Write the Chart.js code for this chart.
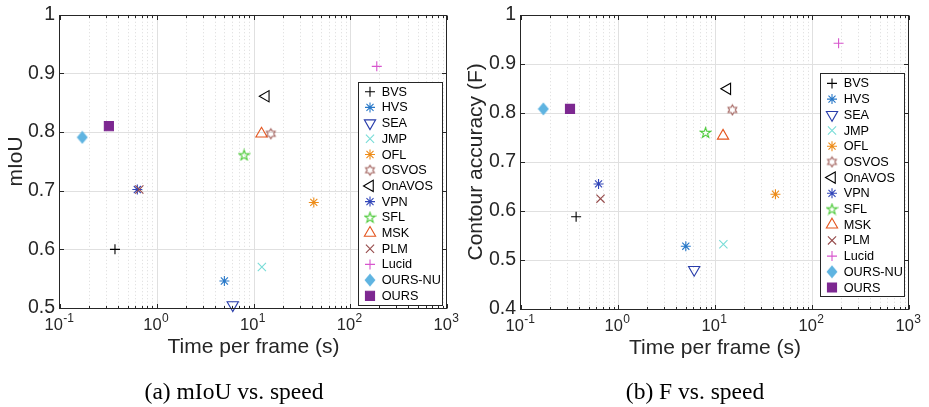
<!DOCTYPE html>
<html><head><meta charset="utf-8">
<script src="https://cdn.jsdelivr.net/npm/chart.js@4"></script>
<style>
html,body{margin:0;padding:0;background:#fff;}
#wrap{position:relative;width:929px;height:407px;overflow:hidden;background:#fff;}
.panel{position:absolute;top:0;height:407px;}
#pa{left:0;width:460px;} #pb{left:460px;width:469px;}
canvas{display:block;}
.cap{position:absolute;top:380px;font-family:"Liberation Serif","Times New Roman",serif;font-size:23.5px;color:#000;white-space:nowrap;transform:translateX(-50%);line-height:1;}
</style></head>
<body><div id="wrap">
<div class="panel" id="pa"><canvas id="ca" width="460" height="407"></canvas></div>
<div class="panel" id="pb"><canvas id="cb" width="469" height="407"></canvas></div>
<div class="cap" style="left:234px">(a) mIoU vs. speed</div>
<div class="cap" style="left:695px">(b) F vs. speed</div>
</div>
<script>
// ---------------- data ----------------
const methods = ['BVS','HVS','SEA','JMP','OFL','OSVOS','OnAVOS','VPN','SFL','MSK','PLM','Lucid','OURS-NU','OURS'];
const timePerFrame = [0.37, 5.0, 6.1, 12.2, 42, 15.1, 13.4, 0.63, 8.0, 12.1, 0.66, 188, 0.17, 0.32];
const mIoU     = [0.600, 0.546, 0.505, 0.570, 0.680, 0.797, 0.861, 0.702, 0.761, 0.797, 0.702, 0.912, 0.791, 0.810];
const contourF = [0.588, 0.528, 0.480, 0.532, 0.634, 0.806, 0.849, 0.655, 0.760, 0.753, 0.625, 0.942, 0.808, 0.808];
const xTicks = [0.1, 1, 10, 100, 1000];
const xTickExp = ['-1', '0', '1', '2', '3'];
const yTicksA = [0.5, 0.6, 0.7, 0.8, 0.9, 1];
const yTickLabelsA = ['0.5','0.6','0.7','0.8','0.9','1'];
const yTicksB = [0.4, 0.5, 0.6, 0.7, 0.8, 0.9, 1];
const yTickLabelsB = ['0.4','0.5','0.6','0.7','0.8','0.9','1'];

// ---------------- styles ----------------
const SANS = "'Liberation Sans', Arial, Helvetica, sans-serif";
const AXC = '#262626';
function mk(w, h, fn) { const c = document.createElement('canvas'); c.width = w; c.height = h; fn(c.getContext('2d'), w, h); return c; }
function starPath(g, cx, cy, n, R, r) {
  g.beginPath();
  for (let k = 0; k < 2 * n; k++) {
    const a = -Math.PI / 2 + k * Math.PI / n;
    const rr = k % 2 ? r : R;
    const px = cx + rr * Math.cos(a), py = cy + rr * Math.sin(a);
    k ? g.lineTo(px, py) : g.moveTo(px, py);
  }
  g.closePath();
}
const hexagram = mk(13, 13, (g) => { starPath(g, 6.5, 6.5, 6, 5, 5 / Math.sqrt(3)); g.strokeStyle = 'rgb(160,95,90)'; g.lineWidth = 1.1; g.stroke(); });
const pentagram = mk(13, 13, (g) => { starPath(g, 6.5, 7, 5, 5.4, 2.1); g.strokeStyle = 'rgb(70,200,50)'; g.lineWidth = 1.1; g.stroke(); });
const diamond = mk(12, 14, (g) => { g.beginPath(); g.moveTo(6, 0.5); g.lineTo(11.5, 7); g.lineTo(6, 13.5); g.lineTo(0.5, 7); g.closePath(); g.fillStyle = 'rgb(95,180,225)'; g.fill(); });

const markerStyles = [
  {ps: 'cross',    r: 5,   rot: 0,   c: '#000000'},
  {ps: 'star',     r: 5,   rot: 0,   c: 'rgb(40,120,200)'},
  {ps: 'triangle', r: 6.5, rot: 180, c: 'rgb(40,60,170)'},
  {ps: 'crossRot', r: 5.8, rot: 0,   c: 'rgb(120,220,215)'},
  {ps: 'star',     r: 5,   rot: 0,   c: 'rgb(237,140,25)'},
  {ps: hexagram,   r: 5,   rot: 0,   c: 'rgb(160,95,90)'},
  {ps: 'triangle', r: 6.5, rot: 270, c: '#000000'},
  {ps: 'star',     r: 5,   rot: 0,   c: 'rgb(50,70,185)'},
  {ps: pentagram,  r: 5,   rot: 0,   c: 'rgb(70,200,50)'},
  {ps: 'triangle', r: 6.5, rot: 0,   c: 'rgb(228,85,30)'},
  {ps: 'crossRot', r: 5.8, rot: 0,   c: 'rgb(150,75,75)'},
  {ps: 'cross',    r: 5,   rot: 0,   c: 'rgb(215,85,205)'},
  {ps: diamond,    r: 5,   rot: 0,   c: 'rgb(95,180,225)', fill: true},
  {ps: 'rect',     r: 6.4, rot: 0,   c: 'rgb(125,40,145)', fill: true}
];

function buildDatasets(yVals) {
  return methods.map((m, i) => {
    const s = markerStyles[i];
    return {
      label: m,
      data: [{x: timePerFrame[i], y: yVals[i]}],
      pointStyle: s.ps, pointRadius: s.r, pointRotation: s.rot,
      borderColor: s.c, backgroundColor: s.fill ? s.c : 'rgba(0,0,0,0)',
      pointBorderWidth: 1.1, pointHoverRadius: s.r,
      clip: false, order: methods.length - i
    };
  });
}

// ---------------- MATLAB-like axes plugin ----------------
function seg(ctx, x1, y1, x2, y2) { ctx.beginPath(); ctx.moveTo(x1, y1); ctx.lineTo(x2, y2); ctx.stroke(); }
const matlabAxes = {
  id: 'matlabAxes',
  beforeDatasetsDraw(chart, args, o) {
    const ctx = chart.ctx, xs = chart.scales.x, ys = chart.scales.y;
    const {left, right, top, bottom} = chart.chartArea;
    ctx.save();
    ctx.lineWidth = 1;
    // minor x grid (dotted)
    ctx.strokeStyle = '#dadada'; ctx.setLineDash([1, 2.5]);
    for (let d = 0; d < xTicks.length - 1; d++) for (let k = 2; k <= 9; k++) {
      const px = Math.round(xs.getPixelForValue(xTicks[d] * k)) + 0.5;
      seg(ctx, px, top, px, bottom);
    }
    ctx.setLineDash([]); ctx.strokeStyle = '#e0e0e0';
    xTicks.forEach(v => { const px = Math.round(xs.getPixelForValue(v)) + 0.5; if (px > left + 1 && px < right - 1) seg(ctx, px, top, px, bottom); });
    o.yTicks.forEach(v => { const py = Math.round(ys.getPixelForValue(v)) + 0.5; if (py > top + 1 && py < bottom - 1) seg(ctx, left, py, right, py); });
    ctx.restore();
  },
  afterDatasetsDraw(chart, args, o) {
    const ctx = chart.ctx, xs = chart.scales.x, ys = chart.scales.y;
    const {left, right, top, bottom} = chart.chartArea;
    ctx.save();
    ctx.strokeStyle = AXC; ctx.lineWidth = 1;
    const L = Math.round(left) - 0.5, R = Math.round(right) - 0.5, T = Math.round(top) + 0.5, B = Math.round(bottom) + 0.5;
    ctx.strokeRect(L, T, R - L, B - T);
    // inward ticks
    for (let d = 0; d < xTicks.length - 1; d++) for (let k = 2; k <= 9; k++) {
      const px = Math.round(xs.getPixelForValue(xTicks[d] * k)) + 0.5;
      seg(ctx, px, B, px, B - 2.5); seg(ctx, px, T, px, T + 2.5);
    }
    xTicks.forEach(v => { const px = Math.round(xs.getPixelForValue(v)) + 0.5; seg(ctx, px, B, px, B - 4.5); seg(ctx, px, T, px, T + 4.5); });
    o.yTicks.forEach(v => { const py = Math.round(ys.getPixelForValue(v)) + 0.5; seg(ctx, L, py, L + 4.5, py); seg(ctx, R, py, R - 4.5, py); });
    // x tick labels 10^n
    ctx.fillStyle = AXC; ctx.textBaseline = 'alphabetic'; ctx.textAlign = 'left';
    xTicks.forEach((v, i) => {
      const px = xs.getPixelForValue(v);
      ctx.font = '16.5px ' + SANS; const wb = ctx.measureText('10').width;
      ctx.font = '12px ' + SANS; const we = ctx.measureText(xTickExp[i]).width;
      const x0 = px - (wb + we) / 2 - 1;
      ctx.font = '16.5px ' + SANS; ctx.fillText('10', x0, bottom + 22);
      ctx.font = '12px ' + SANS; ctx.fillText(xTickExp[i], x0 + wb + 0.5, bottom + 14);
    });
    // legend
    const lg = o.legend;
    const bx = right - lg.rightInset - lg.width, by = bottom - lg.bottomInset - lg.height;
    ctx.fillStyle = '#ffffff'; ctx.fillRect(bx, by, lg.width, lg.height);
    ctx.strokeStyle = AXC; ctx.lineWidth = 1;
    ctx.strokeRect(Math.round(bx) + 0.5, Math.round(by) + 0.5, Math.round(lg.width), Math.round(lg.height));
    chart.data.datasets.forEach((ds, i) => {
      const cy = by + lg.firstRow + i * lg.rowStep;
      const mx = bx + lg.markerX;
      ctx.save();
      ctx.strokeStyle = ds.borderColor; ctx.fillStyle = ds.backgroundColor; ctx.lineWidth = ds.pointBorderWidth;
      Chart.helpers.drawPoint(ctx, {pointStyle: ds.pointStyle, rotation: ds.pointRotation || 0, radius: ds.pointRadius, borderWidth: ds.pointBorderWidth}, mx, cy);
      ctx.restore();
      ctx.fillStyle = '#000'; ctx.font = '12.7px ' + SANS; ctx.textBaseline = 'middle'; ctx.textAlign = 'left';
      ctx.fillText(ds.label, bx + lg.textX, cy + 0.5);
    });
    ctx.restore();
  }
};

function makeChart(id, yVals, yMin, yTicks, yLabels, yTitle, geo) {
  return new Chart(document.getElementById(id), {
    type: 'scatter',
    data: {datasets: buildDatasets(yVals)},
    options: {
      responsive: false, animation: false, events: [],
      layout: {padding: {left: 0, right: geo.padRight, top: 11, bottom: 0}},
      plugins: {
        legend: {display: false}, tooltip: {enabled: false},
        matlabAxes: {yTicks: yTicks, legend: geo.legend}
      },
      scales: {
        x: {
          type: 'logarithmic', min: xTicks[0], max: xTicks[xTicks.length - 1],
          grid: {display: false}, border: {display: false},
          ticks: {display: false},
          title: {display: true, text: 'Time per frame (s)', color: AXC, font: {family: SANS, size: 21, lineHeight: 1.2}, padding: {top: geo.xTitlePad, bottom: geo.xTitlePad}},
          afterFit: s => { s.height = geo.xHeight; }
        },
        y: {
          type: 'linear', min: yMin, max: 1,
          grid: {display: false, drawTicks: false}, border: {display: false},
          afterBuildTicks: s => { s.ticks = yTicks.map(v => ({value: v})); },
          ticks: {padding: 5, color: AXC, font: {family: SANS, size: 19.5, lineHeight: 1}, callback: (v, i) => yLabels[i]},
          title: {display: true, text: yTitle, color: AXC, font: {family: SANS, size: 21, lineHeight: 1.2}, padding: {top: geo.yTitlePad, bottom: 0}},
          afterFit: s => { s.width = geo.yWidth; }
        }
      }
    },
    plugins: [matlabAxes]
  });
}

makeChart('ca', mIoU, 0.5, yTicksA, yTickLabelsA, 'mIoU', {
  padRight: 13, yWidth: 60, xHeight: 99, xTitlePad: 47.4, yTitlePad: 3.9,
  legend: {rightInset: 4.7, bottomInset: 3.7, width: 84, height: 222.6, firstRow: 10, rowStep: 15.7, markerX: 11.7, textX: 23.4}
});
makeChart('cb', contourF, 0.4, yTicksB, yTickLabelsB, 'Contour accuracy (F)', {
  padRight: 20, yWidth: 61, xHeight: 98, xTitlePad: 46.4, yTitlePad: 3.4,
  legend: {rightInset: 4.7, bottomInset: 13, width: 84, height: 222.6, firstRow: 10, rowStep: 15.7, markerX: 11.7, textX: 23.4}
});
</script>
</body></html>
